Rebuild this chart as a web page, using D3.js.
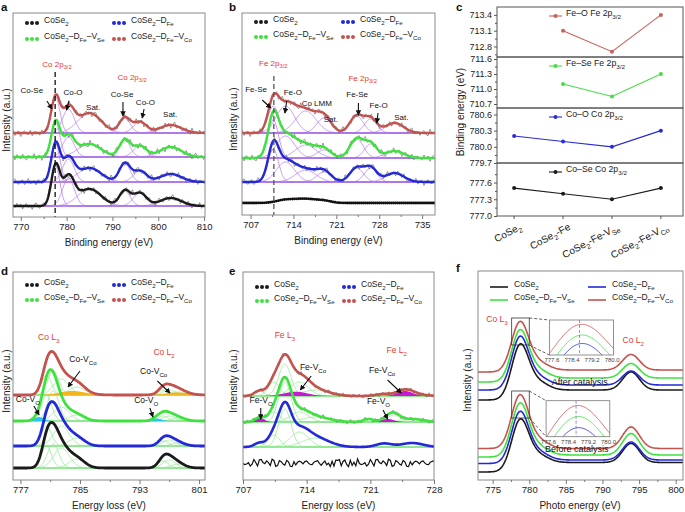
<!DOCTYPE html>
<html>
<head>
<meta charset="utf-8">
<script src="https://cdn.jsdelivr.net/npm/d3@7/dist/d3.min.js"></script>
<style>
  body { margin: 0; background: #fff; }
</style>
</head>
<body>
<div id="fig"></div>
<script>
// ---------- data ----------
// series order: CoSe2, CoSe2-DFe, CoSe2-DFe-VSe, CoSe2-DFe-VCo (stacked bottom to top)
const seriesLabels = [
  [["CoSe"], ["2", "sub"]],
  [["CoSe"], ["2", "sub"], ["–D"], ["Fe", "sub"]],
  [["CoSe"], ["2", "sub"], ["–D"], ["Fe", "sub"], ["–V"], ["Se", "sub"]],
  [["CoSe"], ["2", "sub"], ["–D"], ["Fe", "sub"], ["–V"], ["Co", "sub"]]
];
const seriesColors = ["#1b1b1b", "#2329d8", "#3ee23e", "#c4524d"];

// residuals of the raw counts around the fits, typed in by eye (a.u.)
const rawResidual = [0.8, -1.2, 2.1, -0.4, 1.5, -2.3, 0.6, 1.9, -1.1, 0.3, -2.6, 1.2, 2.4, -0.7, -1.8, 0.9,
  1.6, -2.0, 0.2, 2.7, -1.4, -0.3, 1.1, -2.2, 1.8, 0.5, -1.6, 2.2, -0.9, -2.4, 1.3, 0.1,
  -1.0, 2.5, -1.9, 0.7, 1.4, -2.7, 0.4, 1.7, -0.6, -1.3, 2.0, -2.1, 0.9, 1.0, -0.2, -1.7,
  2.3, -0.8, 1.5, -2.5, 0.6, 2.6, -1.5, -0.1, 1.2, -2.0, 0.3, 1.8, -1.1, -2.2, 2.9, -0.5];

// (a) Co 2p XPS: fitted peaks [centre eV], FWHM, height per series
const aTicks = [770, 780, 790, 800, 810];
const aCentres = [777.6, 780.4, 785.0, 792.7, 796.0, 802.7];
const aFwhm = [2.2, 3.0, 6.0, 2.8, 3.4, 5.5];
const aHeights = [
  [40, 28, 17, 15, 13, 8],
  [38, 23, 14, 18.5, 11, 8],
  [35, 20, 13, 17, 11, 10],
  [36, 24, 20, 15, 11, 8]
];
const aBaselines = [11, 35, 60, 84];
const aRefLine = 777.5;

// (b) Fe 2p XPS
const bTicks = [707, 714, 721, 728, 735];
const bCentres = [710.7, 712.7, 716.0, 719.0, 724.3, 726.6, 730.5];
const bFwhm = [2.0, 3.5, 4.0, 2.8, 2.6, 2.4, 3.5];
const bHeights = [
  [0, 3, 4, 2, 0, 0, 0],
  [33, 20, 12, 10, 14, 14, 9],
  [38, 22, 13, 8, 19, 14, 7],
  [27, 27, 22, 15, 17, 14, 10]
];
const bBaselines = [12, 33, 57, 82];
const bRefLine = 710.8;

// (c) peak binding energies (eV)
const cSamples = ["CoSe2", "CoSe2-Fe", "CoSe2-Fe-VSe", "CoSe2-Fe-VCo"];
const cSampleLabels = [
  [["CoSe"], ["2", "sub"]],
  [["CoSe"], ["2", "sub"], ["-Fe"]],
  [["CoSe"], ["2", "sub"], ["-Fe-V"], ["Se", "sub"]],
  [["CoSe"], ["2", "sub"], ["-Fe-V"], ["Co", "sub"]]
];
const cFeO = [null, 713.1, 712.7, 713.4];
const cFeSe = [null, 711.1, 710.85, 711.3];
const cCoO = [780.2, 780.1, 780.0, 780.3];
const cCoSe = [777.5, 777.4, 777.3, 777.5];

// (d) Co L-edge EELS
const dTicks = [777, 785, 793, 801];
const dCentres = [780.5, 781.4, 782.5, 784.6, 796.2, 797.0, 798.2];
const dFwhm = [1.6, 1.8, 2.5, 2.5, 1.6, 2.0, 2.2];
const dHeights = [
  [22, 24, 20, 9, 7, 8, 4],
  [20, 24, 20, 8, 5, 6, 3],
  [26, 30, 14, 6, 5, 5, 3],
  [20, 24, 16, 8, 5, 5, 3]
];
const dBaselines = [12, 34, 59, 85];
// vacancy components [series, centre, fwhm, height]
const dVacancy = [[2, 779.5, 1.5, 4], [2, 795.3, 1.5, 2.5], [3, 784.0, 4.0, 4], [3, 798.0, 3.5, 2.5]];

// (e) Fe L-edge EELS
const eTicks = [707, 714, 721, 728];
const eCentres = [708.8, 710.4, 711.6, 713.2, 715.0, 720.8, 722.5, 723.6, 725.6];
const eFwhm = [1.3, 1.5, 1.6, 2.4, 3.5, 1.3, 2.0, 1.6, 2.8];
const eHeights = [
  [0, 0, 0, 0, 0, 0, 0, 0, 0],
  [4, 12, 38, 15, 9, 0, 3.5, 0, 4],
  [0, 10, 40, 10, 5, 3, 0, 7, 3],
  [5, 14, 32, 14, 6, 0, 2, 0, 2]
];
const eBaselines = [17, 33, 58, 84];
const eVacancy = [[2, 708.8, 1.2, 4.3], [2, 722.9, 1.6, 3], [3, 712.8, 3.0, 4.3], [3, 724.8, 2.0, 5]];

// (f) Co L-edge XAS, levels and peak heights per series
const fTicks = [775, 780, 785, 790, 795, 800];
const fL3Centre = 778.7, fL2Centre = 793.9;
const fAfterPre = [80, 90, 98, 108];
const fAfterPost = [90, 95, 102, 110];
const fAfterL3 = [50.5, 49.8, 48.7, 47.6];
const fAfterL2 = [18, 14, 14.5, 15.5];
const fBeforePre = [8, 16.5, 23, 31.5];
const fBeforePost = [17.5, 20, 25, 31.5];
const fBeforeL3 = [47.8, 48.7, 50.9, 51.2];
const fBeforeL2 = [19, 18, 21.5, 21.5];
const fInsetTicks = [777.6, 778.4, 779.2, 780.0];

// ---------- drawing ----------
const FONT = "'Liberation Sans', Arial, Helvetica, sans-serif";
const ANNO_RED = "#e8372f";
const COMP_PURPLE = "#ad72e8";
const COMP_GREEN = "#8de88d";

const svg = d3.select("#fig").append("svg")
  .attr("width", 685).attr("height", 512)
  .attr("font-family", FONT);

svg.append("defs").append("marker").attr("id", "arrow")
  .attr("viewBox", "0 0 8 8").attr("refX", 7).attr("refY", 4)
  .attr("markerWidth", 5).attr("markerHeight", 5).attr("orient", "auto")
  .append("path").attr("d", "M0,0 L8,4 L0,8 z").attr("fill", "#111");

const gauss = (v, c, w, h) => h * Math.exp(-4 * Math.LN2 * (v - c) * (v - c) / (w * w));

// text with subscripts
function rich(sel, parts, size) {
  let shift = 0;
  parts.forEach(([t, kind]) => {
    const s = kind === "sub" ? size * 0.3 : 0;
    sel.append("tspan").attr("dy", s - shift).attr("font-size", kind ? size * 0.72 : size).text(t);
    shift = s;
  });
  return sel;
}

function bottomAxis(x, yPos, ticks) {
  const ax = svg.append("g").attr("transform", `translate(0,${yPos})`)
    .call(d3.axisBottom(x).tickValues(ticks).tickSize(4).tickPadding(2).tickFormat(d3.format("d")));
  ax.attr("font-family", FONT).attr("font-size", 9.5);
  ax.select(".domain").remove();
  ax.selectAll(".tick line").attr("stroke", "#777");
  ax.selectAll(".tick text").attr("fill", "#222");
  const h = (ticks[1] - ticks[0]) / 2;
  const [lo, hi] = x.domain();
  const minor = d3.range(ticks[0] - 10 * h, hi, h)
    .filter(v => v >= lo && !ticks.some(t => Math.abs(t - v) < 1e-6));
  const am = svg.append("g").attr("transform", `translate(0,${yPos})`)
    .call(d3.axisBottom(x).tickValues(minor).tickSize(2).tickFormat(""));
  am.select(".domain").remove();
  am.selectAll("line").attr("stroke", "#777");
}

function yTitle(xPos, yMid, label) {
  svg.append("text").attr("transform", `translate(${xPos},${yMid}) rotate(-90)`)
    .attr("text-anchor", "middle").attr("dy", "0.35em")
    .attr("font-size", 10).attr("fill", "#222").text(label);
}

function letter(x, y, t) {
  svg.append("text").attr("x", x).attr("y", y).attr("font-size", 11.5)
    .attr("font-weight", "bold").attr("fill", "#111").text(t);
}

function spectrum(cfg) {
  const x = d3.scaleLinear().domain(cfg.domain).range([cfg.x0, cfg.x1]);
  const y = d3.scaleLinear().domain([0, cfg.y1 - cfg.y0]).range([cfg.y1, cfg.y0]);
  const line = d3.line().x(d => x(d[0])).y(d => y(d[1]));
  const clipId = "clip-" + cfg.id;
  svg.append("clipPath").attr("id", clipId).append("rect")
    .attr("x", cfg.x0).attr("y", cfg.y0)
    .attr("width", cfg.x1 - cfg.x0).attr("height", cfg.y1 - cfg.y0);
  const plot = svg.append("g").attr("clip-path", `url(#${clipId})`);
  const back = plot.append("g"), mid = plot.append("g"), raw = plot.append("g"), front = plot.append("g");
  const grid = d3.range(cfg.domain[0], cfg.domain[1] + 0.05, 0.08);

  cfg.heights.forEach((hs, i) => {
    const base = cfg.baselines[i];
    const vac = (cfg.vacancy || []).filter(p => p[0] === i);
    const fit = v => base
      + d3.sum(hs, (h, k) => gauss(v, cfg.centres[k], cfg.fwhm[k], h))
      + d3.sum(vac, p => gauss(v, p[1], p[2], p[3]));
    const kind = cfg.kinds[i];

    if (kind === "noise") {
      const pts = d3.range(cfg.domain[0], cfg.domain[1] + 0.1, 0.2)
        .map((v, j) => [v, base + rawResidual[(j * 5 + 3) % rawResidual.length] * 1.4]);
      front.append("path").attr("d", line(pts)).attr("fill", "none")
        .attr("stroke", "#111").attr("stroke-width", 1.2);
      return;
    }
    if (kind === "dots") {
      front.append("path").attr("d", line(grid.map(v => [v, fit(v)]))).attr("fill", "none")
        .attr("stroke", "#111").attr("stroke-width", 1);
      front.selectAll(null).data(d3.range(cfg.domain[0], cfg.domain[1], 0.33)).join("circle")
        .attr("cx", v => x(v)).attr("cy", v => y(fit(v))).attr("r", 1.4).attr("fill", "#111");
      return;
    }
    // background line and fitted components
    back.append("path").attr("d", line([[cfg.domain[0], base], [cfg.domain[1], base]]))
      .attr("fill", "none").attr("stroke", cfg.compColor).attr("stroke-width", 0.9);
    hs.forEach((h, k) => {
      if (!h) return;
      back.append("path")
        .attr("d", line(grid.map(v => [v, base + gauss(v, cfg.centres[k], cfg.fwhm[k], h)])))
        .attr("fill", "none").attr("stroke", cfg.compColor).attr("stroke-width", 0.7);
    });
    vac.forEach(p => {
      const area = d3.area().x(v => x(v)).y0(y(base)).y1(v => y(base + gauss(v, p[1], p[2], p[3])));
      mid.append("path").attr("d", area(grid)).attr("fill", cfg.vacancyColors[i]);
    });
    if (cfg.raw[i]) {
      const pts = d3.range(cfg.domain[0], cfg.domain[1] + 0.1, cfg.rawStep)
        .map((v, j) => [v, fit(v) + rawResidual[(j + 11 * i) % rawResidual.length] * cfg.rawAmp]);
      raw.append("path").attr("d", line(pts)).attr("fill", "none")
        .attr("stroke", "#6e6e6e").attr("stroke-width", 0.7);
    }
    front.append("path").attr("d", line(grid.map(v => [v, fit(v)]))).attr("fill", "none")
      .attr("stroke", seriesColors[i]).attr("stroke-width", cfg.fitWidth)
      .attr("stroke-linejoin", "round");
  });

  if (cfg.refLine != null) {
    plot.append("line").attr("x1", x(cfg.refLine)).attr("x2", x(cfg.refLine))
      .attr("y1", y(cfg.refTop)).attr("y2", cfg.y1)
      .attr("stroke", cfg.refColor).attr("stroke-width", 1.3).attr("stroke-dasharray", "5,3");
  }

  svg.append("rect").attr("x", cfg.x0).attr("y", cfg.y0)
    .attr("width", cfg.x1 - cfg.x0).attr("height", cfg.y1 - cfg.y0)
    .attr("fill", "none").attr("stroke", "#8a8a8a");
  bottomAxis(x, cfg.y1, cfg.ticks);
  svg.append("text").attr("x", (cfg.x0 + cfg.x1) / 2).attr("y", cfg.y1 + 25).attr("dy", "0.35em")
    .attr("text-anchor", "middle").attr("font-size", 10).attr("fill", "#222").text(cfg.xTitle);
  yTitle(cfg.yTitleX, (cfg.y0 + cfg.y1) / 2 + 5, "Intensity (a.u.)");

  // legend
  seriesLabels.forEach((lab, i) => {
    const col = i % 2, row = Math.floor(i / 2);
    const lx = cfg.x0 + (col ? 101 : 14), ly = cfg.y0 + cfg.legendRows[row];
    [0, 5, 10].forEach(dx => svg.append("circle").attr("cx", lx + dx).attr("cy", ly)
      .attr("r", 2).attr("fill", seriesColors[i]));
    rich(svg.append("text").attr("x", lx + 17).attr("y", ly).attr("dy", "0.35em")
      .attr("font-size", 8.5).attr("fill", "#222"), lab, 8.5);
  });

  // annotations
  (cfg.notes || []).forEach(n => {
    rich(svg.append("text").attr("x", x(n.x)).attr("y", y(n.y)).attr("dy", "0.35em")
      .attr("text-anchor", "middle").attr("fill", n.red ? ANNO_RED : "#111")
      .attr("font-size", cfg.noteSize), n.text, cfg.noteSize);
    if (n.arrow) {
      svg.append("line").attr("x1", x(n.arrow[0])).attr("y1", y(n.arrow[1]))
        .attr("x2", x(n.arrow[2])).attr("y2", y(n.arrow[3]))
        .attr("stroke", "#111").attr("stroke-width", 1.1).attr("marker-end", "url(#arrow)");
    }
  });
  return { x, y };
}

const sub32 = lead => [[lead], ["3/2", "sub"]];

// ----- panel a -----
spectrum({
  id: "a", x0: 13, x1: 205, y0: 13, y1: 217, domain: [768.3, 810.2], ticks: aTicks,
  centres: aCentres, fwhm: aFwhm, heights: aHeights, baselines: aBaselines,
  kinds: ["fit", "fit", "fit", "fit"], raw: [true, true, true, true], rawStep: 0.42, rawAmp: 1.3,
  compColor: COMP_PURPLE, fitWidth: 2.4, legendRows: [10, 26],
  xTitle: "Binding energy (eV)", yTitleX: 6,
  refLine: aRefLine, refTop: 145, refColor: "#111", noteSize: 8,
  notes: [
    { text: sub32("Co 2p"), x: 777.9, y: 150, red: true },
    { text: [["Co-Se"]], x: 772.4, y: 124, arrow: [775.7, 116, 776.8, 108] },
    { text: [["Co-O"]], x: 781.4, y: 122, arrow: [780.5, 116, 780.0, 107] },
    { text: [["Sat."]], x: 785.8, y: 107 },
    { text: sub32("Co 2p"), x: 794.3, y: 137, red: true },
    { text: [["Co-Se"]], x: 792.1, y: 120, arrow: [792.3, 115, 792.3, 101] },
    { text: [["Co-O"]], x: 797.2, y: 112, arrow: [796.9, 108, 796.5, 99] },
    { text: [["Sat."]], x: 802.6, y: 100 }
  ]
});
letter(1, 11, "a");

// ----- panel b -----
spectrum({
  id: "b", x0: 242, x1: 435, y0: 13, y1: 215, domain: [705.6, 737.1], ticks: bTicks,
  centres: bCentres, fwhm: bFwhm, heights: bHeights, baselines: bBaselines,
  kinds: ["dots", "fit", "fit", "fit"], raw: [false, true, true, true], rawStep: 0.33, rawAmp: 1.3,
  compColor: COMP_PURPLE, fitWidth: 2.4, legendRows: [9, 24],
  xTitle: "Binding energy (eV)", yTitleX: 233,
  refLine: bRefLine, refTop: 139, refColor: "#555", noteSize: 8,
  notes: [
    { text: sub32("Fe 2p"), x: 710.7, y: 149, red: true },
    { text: [["Fe-Se"]], x: 707.9, y: 123, arrow: [708.9, 115, 710.3, 107] },
    { text: [["Fe-O"]], x: 713.9, y: 120, arrow: [712.9, 114, 712.6, 102] },
    { text: [["Co LMM"]], x: 717.8, y: 109 },
    { text: [["Sat."]], x: 720.1, y: 93 },
    { text: sub32("Fe 2p"), x: 725.3, y: 134, red: true },
    { text: [["Fe-Se"]], x: 724.4, y: 118, arrow: [724.6, 112, 724.6, 100] },
    { text: [["Fe-O"]], x: 727.9, y: 107, arrow: [727.8, 102, 727.6, 92] },
    { text: [["Sat."]], x: 731.6, y: 95 }
  ]
});
letter(229, 11, "b");

// ----- panel d -----
spectrum({
  id: "d", x0: 13, x1: 205, y0: 272, y1: 480, domain: [776, 801.8], ticks: dTicks,
  centres: dCentres, fwhm: dFwhm, heights: dHeights, baselines: dBaselines,
  vacancy: dVacancy, vacancyColors: { 2: "#2ac6f2", 3: "#f4b41a" },
  kinds: ["fit", "fit", "fit", "fit"], raw: [false, false, false, false],
  compColor: COMP_GREEN, fitWidth: 2.8, legendRows: [13, 28],
  xTitle: "Energy loss (eV)", yTitleX: 6, noteSize: 8.5,
  notes: [
    { text: [["Co L"], ["3", "sub"]], x: 780.8, y: 140, red: true },
    { text: [["Co-V"], ["Co", "sub"]], x: 785.4, y: 118, arrow: [785.0, 109, 783.4, 93] },
    { text: [["Co L"], ["2", "sub"]], x: 796.3, y: 125, red: true },
    { text: [["Co-V"], ["Co", "sub"]], x: 794.9, y: 106, arrow: [795.4, 99, 797.1, 87] },
    { text: [["Co-V"], ["O", "sub"]], x: 778.0, y: 78, arrow: [778.8, 74, 779.5, 65] },
    { text: [["Co-V"], ["O", "sub"]], x: 793.9, y: 77, arrow: [794.4, 72, 794.8, 63] }
  ]
});
letter(1, 275, "d");

// ----- panel e -----
spectrum({
  id: "e", x0: 243, x1: 434, y0: 272, y1: 480, domain: [707, 728], ticks: eTicks,
  centres: eCentres, fwhm: eFwhm, heights: eHeights, baselines: eBaselines,
  vacancy: eVacancy, vacancyColors: { 2: "#c815d6", 3: "#c815d6" },
  kinds: ["noise", "fit", "fit", "fit"], raw: [false, false, true, true], rawStep: 0.22, rawAmp: 0.9,
  compColor: COMP_GREEN, fitWidth: 2.6, legendRows: [15, 29],
  xTitle: "Energy loss (eV)", yTitleX: 233, noteSize: 8.5,
  notes: [
    { text: [["Fe L"], ["3", "sub"]], x: 711.6, y: 142, red: true },
    { text: [["Fe-V"], ["Co", "sub"]], x: 714.7, y: 110, arrow: [714.5, 104, 713.3, 90] },
    { text: [["Fe L"], ["2", "sub"]], x: 723.9, y: 127, red: true },
    { text: [["Fe-V"], ["Co", "sub"]], x: 722.3, y: 107, arrow: [722.9, 100, 724.4, 87] },
    { text: [["Fe-V"], ["O", "sub"]], x: 709.0, y: 77, arrow: [708.95, 72, 708.95, 61] },
    { text: [["Fe-V"], ["O", "sub"]], x: 721.9, y: 76, arrow: [722.4, 70, 722.9, 61] }
  ]
});
letter(229, 275, "e");

// ----- panel c -----
const cx = d3.scalePoint().domain(cSamples).range([497, 678]).padding(0.35);
const cRows = [
  { values: cFeO, color: "#c9605a", label: sub32("Fe–O Fe 2p"), domain: [712.6, 713.55], top: 7, bottom: 57, ticks: [712.8, 713.1, 713.4] },
  { values: cFeSe, color: "#45de45", label: sub32("Fe–Se Fe 2p"), domain: [710.62, 711.64], top: 57, bottom: 108, ticks: [710.7, 711.0, 711.3, 711.6] },
  { values: cCoO, color: "#2a2ad6", label: sub32("Co–O Co 2p"), domain: [779.7, 780.72], top: 108, bottom: 163, ticks: [779.7, 780.0, 780.3, 780.6] },
  { values: cCoSe, color: "#1b1b1b", label: sub32("Co–Se Co 2p"), domain: [777.0, 777.95], top: 163, bottom: 216, ticks: [777.0, 777.3, 777.6] }
];
cRows.forEach(r => {
  const y = d3.scaleLinear().domain(r.domain).range([r.bottom, r.top]);
  const pts = cSamples.map((s, i) => [s, r.values[i]]).filter(d => d[1] != null);
  svg.append("path").attr("d", d3.line().x(d => cx(d[0])).y(d => y(d[1]))(pts))
    .attr("fill", "none").attr("stroke", r.color).attr("stroke-width", 1.1);
  svg.selectAll(null).data(pts).join("circle")
    .attr("cx", d => cx(d[0])).attr("cy", d => y(d[1])).attr("r", 2).attr("fill", r.color);
  svg.append("rect").attr("x", 497).attr("y", r.top).attr("width", 186).attr("height", r.bottom - r.top)
    .attr("fill", "none").attr("stroke", "#555");
  const ax = svg.append("g").attr("transform", "translate(497,0)")
    .call(d3.axisLeft(y).tickValues(r.ticks).tickSize(3).tickPadding(2).tickFormat(d3.format(".1f")));
  ax.attr("font-family", FONT).attr("font-size", 9);
  ax.select(".domain").remove();
  ax.selectAll(".tick line").attr("stroke", "#555");
  ax.selectAll(".tick text").attr("fill", "#222");
  const minor = r.ticks.map(t => t + 0.15).concat([r.ticks[0] - 0.15])
    .filter(v => v > r.domain[0] && v < r.domain[1]);
  const am = svg.append("g").attr("transform", "translate(497,0)")
    .call(d3.axisLeft(y).tickValues(minor).tickSize(2).tickFormat(""));
  am.select(".domain").remove();
  am.selectAll("line").attr("stroke", "#555");
  // legend
  const ly = r.top + 9;
  svg.append("line").attr("x1", 549).attr("x2", 562).attr("y1", ly).attr("y2", ly)
    .attr("stroke", r.color).attr("stroke-width", 1.1);
  svg.append("circle").attr("cx", 555.5).attr("cy", ly).attr("r", 2).attr("fill", r.color);
  rich(svg.append("text").attr("x", 566).attr("y", ly).attr("dy", "0.35em")
    .attr("font-size", 8.7).attr("fill", "#222"), r.label, 8.7);
});
cSamples.forEach((s, i) => {
  svg.append("line").attr("x1", cx(s)).attr("x2", cx(s)).attr("y1", 216).attr("y2", 219).attr("stroke", "#555");
  rich(svg.append("text").attr("transform", `translate(${cx(s) + 8},229) rotate(-28)`)
    .attr("text-anchor", "end").attr("font-size", 10).attr("fill", "#222"), cSampleLabels[i], 10);
});
yTitle(460, 112, "Binding energy (eV)");
letter(456, 11, "c");

// ----- panel f -----
const fx = d3.scaleLinear().domain([773, 801]).range([478, 683]);
const fy = d3.scaleLinear().domain([0, 209]).range([480, 271]);
const fCurve = (pre, post, l3, l2) => v => pre + (post - pre) / (1 + Math.exp(-(v - 779.5) / 0.8))
  + gauss(v, fL3Centre, 2.7, l3) + gauss(v, 781.0, 3.4, l3 * 0.18) + gauss(v, fL2Centre, 2.7, l2);
const fAfter = seriesColors.map((c, i) => fCurve(fAfterPre[i], fAfterPost[i], fAfterL3[i], fAfterL2[i]));
const fBefore = seriesColors.map((c, i) => fCurve(fBeforePre[i], fBeforePost[i], fBeforeL3[i], fBeforeL2[i]));
const fGrid = d3.range(773, 801.05, 0.1);

svg.append("clipPath").attr("id", "clip-f").append("rect")
  .attr("x", 478).attr("y", 271).attr("width", 205).attr("height", 209);
const fPlot = svg.append("g").attr("clip-path", "url(#clip-f)");
const fLine = d3.line().x(d => fx(d[0])).y(d => fy(d[1]));
[fAfter, fBefore].forEach(group => {
  group.forEach((fn, i) => {
    fPlot.append("path").attr("d", fLine(fGrid.map(v => [v, fn(v)])))
      .attr("fill", "none").attr("stroke", seriesColors[i]).attr("stroke-width", 1.6);
  });
});
svg.append("rect").attr("x", 478).attr("y", 271).attr("width", 205).attr("height", 209)
  .attr("fill", "none").attr("stroke", "#8a8a8a");
bottomAxis(fx, 480, fTicks);
svg.append("text").attr("x", 580).attr("y", 505).attr("dy", "0.35em").attr("text-anchor", "middle")
  .attr("font-size", 10).attr("fill", "#222").text("Photo energy (eV)");
yTitle(467, 380, "Intensity (a.u.)");
letter(456, 272, "f");

// line legend
seriesLabels.forEach((lab, i) => {
  const col = i % 2, row = Math.floor(i / 2);
  const lx = 478 + (col ? 110 : 12), ly = 271 + (row ? 29 : 16);
  svg.append("line").attr("x1", lx).attr("x2", lx + 18).attr("y1", ly).attr("y2", ly)
    .attr("stroke", seriesColors[i]).attr("stroke-width", 1.6);
  rich(svg.append("text").attr("x", lx + 24).attr("y", ly).attr("dy", "0.35em")
    .attr("font-size", 8.5).attr("fill", "#222"), lab, 8.5);
});

// labels
[
  { t: [["Co L"], ["3", "sub"]], x: 775.6, y: 158, red: true },
  { t: [["Co L"], ["2", "sub"]], x: 794.2, y: 137, red: true },
  { t: [["After catalysis"]], x: 786.9, y: 95 },
  { t: [["Before catalysis"]], x: 786.5, y: 28 }
].forEach(n => {
  rich(svg.append("text").attr("x", fx(n.x)).attr("y", fy(n.y)).attr("dy", "0.35em")
    .attr("text-anchor", "middle").attr("fill", n.red ? ANNO_RED : "#111")
    .attr("font-size", n.red ? 8.5 : 9), n.t, n.red ? 8.5 : 9);
});

// zoom insets on the L3 peak
[
  { curves: fAfter, zoom: [135, 162], box: [782.75, 791.5, 125, 160], id: "fi1" },
  { curves: fBefore, zoom: [62, 89], box: [782.3, 791.0, 43.3, 79.3], id: "fi2" }
].forEach(inset => {
  const bx0 = fx(inset.box[0]), bx1 = fx(inset.box[1]);
  const by0 = fy(inset.box[3]), by1 = fy(inset.box[2]);
  const ix = d3.scaleLinear().domain([777.5, 780.05]).range([bx0, bx1]);
  const iy = d3.scaleLinear().domain(inset.zoom).range([by1, by0]);
  // marked region on the main plot
  const rx0 = fx(777.6), rx1 = fx(780.0), ry0 = fy(inset.zoom[1]), ry1 = fy(inset.zoom[0]);
  svg.append("rect").attr("x", rx0).attr("y", ry0).attr("width", rx1 - rx0).attr("height", ry1 - ry0)
    .attr("fill", "none").attr("stroke", "#333").attr("stroke-width", 0.8);
  svg.append("line").attr("x1", rx1).attr("y1", ry0).attr("x2", bx0).attr("y2", by0)
    .attr("stroke", "#333").attr("stroke-width", 0.8).attr("stroke-dasharray", "3,2");
  svg.append("line").attr("x1", rx1).attr("y1", ry1).attr("x2", bx0).attr("y2", by1)
    .attr("stroke", "#333").attr("stroke-width", 0.8).attr("stroke-dasharray", "3,2");
  svg.append("rect").attr("x", bx0).attr("y", by0).attr("width", bx1 - bx0).attr("height", by1 - by0)
    .attr("fill", "#fff");
  svg.append("clipPath").attr("id", inset.id).append("rect")
    .attr("x", bx0).attr("y", by0).attr("width", bx1 - bx0).attr("height", by1 - by0);
  const ig = svg.append("g").attr("clip-path", `url(#${inset.id})`);
  const iGrid = d3.range(777.5, 780.1, 0.03);
  [1, 2, 3].forEach(i => {
    ig.append("path").attr("d", d3.line().x(v => ix(v)).y(v => iy(inset.curves[i](v)))(iGrid))
      .attr("fill", "none").attr("stroke", seriesColors[i]).attr("stroke-width", 0.8);
  });
  ig.append("line").attr("x1", ix(fL3Centre)).attr("x2", ix(fL3Centre)).attr("y1", by0).attr("y2", by1)
    .attr("stroke", "#8a5fd0").attr("stroke-width", 0.8).attr("stroke-dasharray", "3,2");
  svg.append("rect").attr("x", bx0).attr("y", by0).attr("width", bx1 - bx0).attr("height", by1 - by0)
    .attr("fill", "none").attr("stroke", "#777").attr("stroke-width", 0.8);
  fInsetTicks.forEach(t => {
    svg.append("text").attr("x", ix(t)).attr("y", by1 + 5).attr("dy", "0.35em")
      .attr("text-anchor", "middle").attr("font-size", 6).attr("fill", "#444")
      .text(d3.format(".1f")(t));
  });
});
</script>
</body>
</html>
